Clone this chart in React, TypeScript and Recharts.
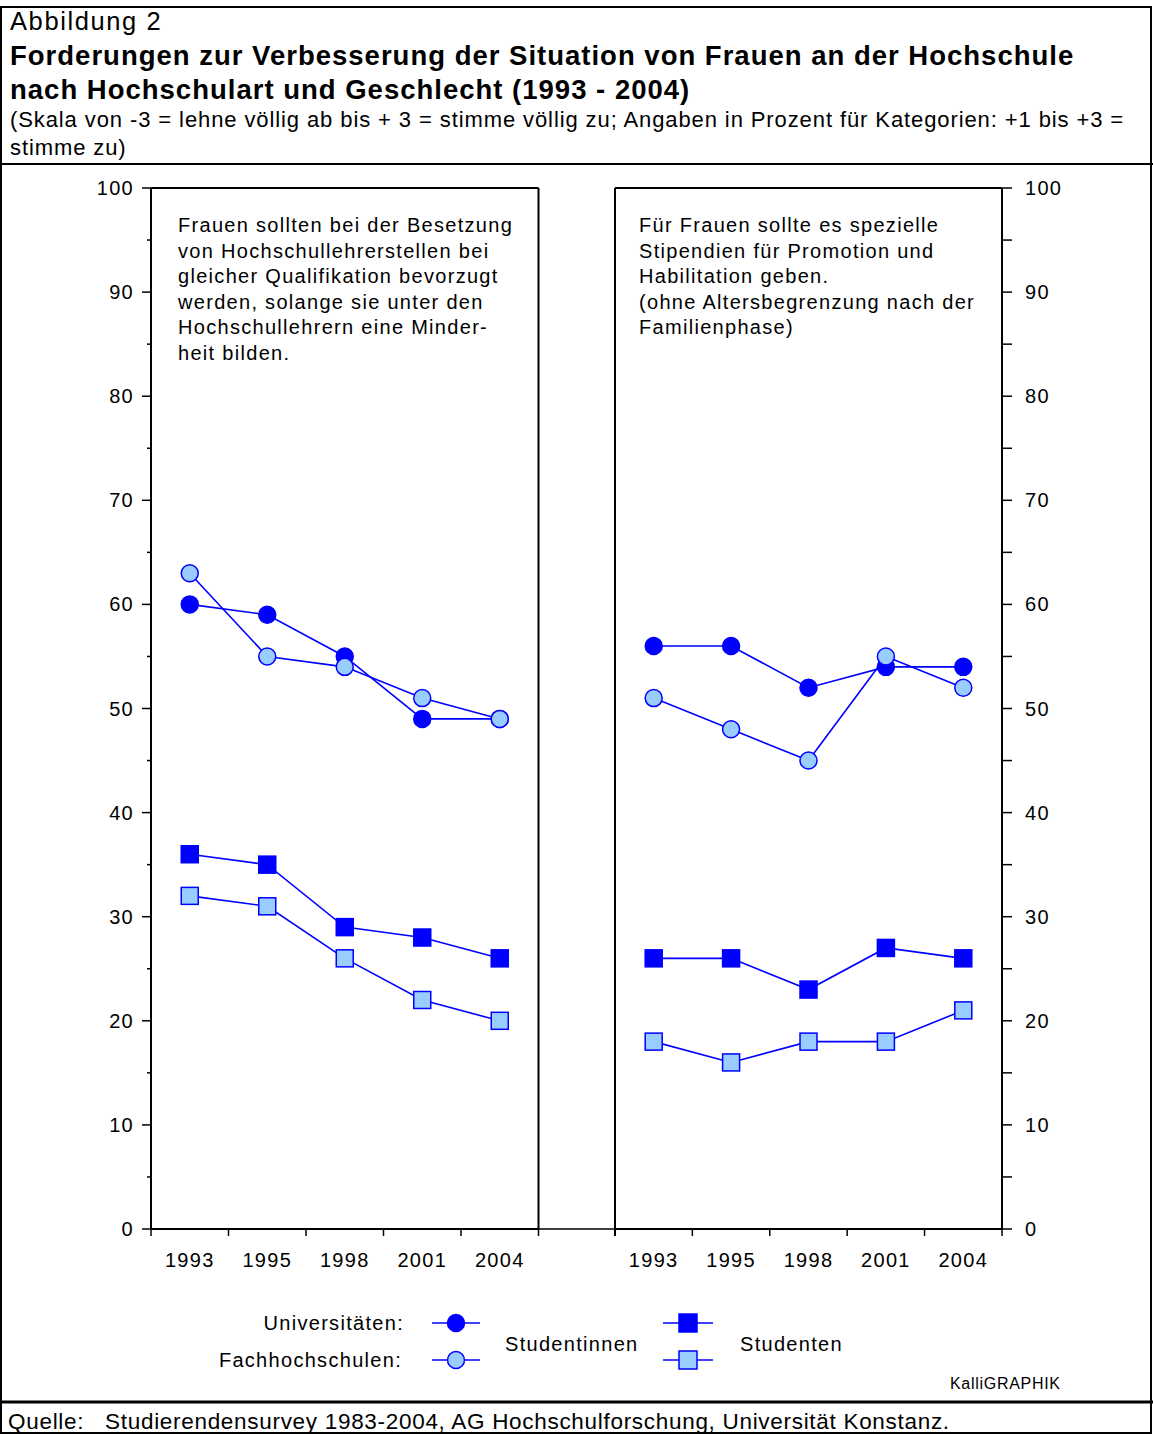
import React from 'react';
import { LineChart, Line, XAxis, YAxis, ReferenceLine } from 'recharts';

// Kategorien (Erhebungsjahre)
const years = ['1993', '1995', '1998', '2001', '2004'];

// linkes Feld: Bevorzugung bei Besetzung von Hochschullehrerstellen
const uniWomenLeft = [60, 59, 55, 49, 49];
const fhWomenLeft = [63, 55, 54, 51, 49];
const uniMenLeft = [36, 35, 29, 28, 26];
const fhMenLeft = [32, 31, 26, 22, 20];

// rechtes Feld: spezielle Stipendien
const uniWomenRight = [56, 56, 52, 54, 54];
const fhWomenRight = [51, 48, 45, 55, 52];
const uniMenRight = [26, 26, 23, 27, 26];
const fhMenRight = [18, 16, 18, 18, 21];

const yTicks = [0, 5, 10, 15, 20, 25, 30, 35, 40, 45, 50, 55, 60, 65, 70, 75, 80, 85, 90, 95, 100];

const leftNote = [
  'Frauen sollten bei der Besetzung',
  'von Hochschullehrerstellen bei',
  'gleicher Qualifikation bevorzugt',
  'werden, solange sie unter den',
  'Hochschullehrern eine Minder-',
  'heit bilden.',
];
const rightNote = [
  'Für Frauen sollte es spezielle',
  'Stipendien für Promotion und',
  'Habilitation geben.',
  '(ohne Altersbegrenzung nach der',
  'Familienphase)',
];

const FONT = '"Liberation Sans", Arial, Helvetica, sans-serif';
const BLUE = '#0000FF';
const LIGHT = '#99CCFF';

const buildRows = (uniW: number[], fhW: number[], uniM: number[], fhM: number[]) =>
  years.map((year, i) => ({ year, uniW: uniW[i], fhW: fhW[i], uniM: uniM[i], fhM: fhM[i] }));

const leftRows = buildRows(uniWomenLeft, fhWomenLeft, uniMenLeft, fhMenLeft);
const rightRows = buildRows(uniWomenRight, fhWomenRight, uniMenRight, fhMenRight);

const circleDot = (fill: string) => (props: any) => {
  const { cx, cy, index } = props;
  if (cx == null || cy == null) return <g key={`c-${fill}-${index}`} />;
  return <circle key={`c-${fill}-${index}`} cx={cx} cy={cy} r={8.5} fill={fill} stroke={BLUE} strokeWidth={1.5} />;
};

const squareDot = (fill: string) => (props: any) => {
  const { cx, cy, index } = props;
  if (cx == null || cy == null) return <g key={`s-${fill}-${index}`} />;
  return (
    <rect key={`s-${fill}-${index}`} x={cx - 8.5} y={cy - 8.5} width={17} height={17} fill={fill} stroke={BLUE} strokeWidth={1.5} />
  );
};

const textStyle = { fontFamily: FONT, fontSize: 20, letterSpacing: 1.3 };

function Panel({ rows, side, left, width }: { rows: any[]; side: 'left' | 'right'; left: number; width: number }) {
  const plotW = 387.5;
  const half = plotW / years.length / 2;
  const margin =
    side === 'left'
      ? { top: 188, left: 91, right: 21.5, bottom: 31 }
      : { top: 188, left: 55, right: 91, bottom: 31 };

  const xTick = (p: any) => {
    const { x, y, payload, index } = p;
    return (
      <g key={`xt-${index}`}>
        <line x1={x - half} x2={x - half} y1={y} y2={y + 7} stroke="#000" strokeWidth={1.5} />
        {index === years.length - 1 && <line x1={x + half} x2={x + half} y1={y} y2={y + 7} stroke="#000" strokeWidth={1.5} />}
        <text x={x} y={y + 38} textAnchor="middle" fill="#000" style={textStyle}>
          {payload.value}
        </text>
      </g>
    );
  };

  const yTick = (p: any) => {
    const { x, y, payload } = p;
    const major = payload.value % 10 === 0;
    if (side === 'left') {
      return (
        <g key={`yt-${payload.value}`}>
          <line x1={x - (major ? 9 : 4)} x2={x} y1={y} y2={y} stroke="#000" strokeWidth={1.5} />
          {major && (
            <text x={x - 17} y={y + 7} textAnchor="end" fill="#000" style={textStyle}>
              {payload.value}
            </text>
          )}
        </g>
      );
    }
    return (
      <g key={`yt-${payload.value}`}>
        <line x1={x} x2={x + 10} y1={y} y2={y} stroke="#000" strokeWidth={1.5} />
        {major && (
          <text x={x + 23} y={y + 7} textAnchor="start" fill="#000" style={textStyle}>
            {payload.value}
          </text>
        )}
      </g>
    );
  };

  return (
    <div style={{ position: 'absolute', left, top: 0 }}>
      <LineChart width={width} height={1300} data={rows} margin={margin}>
        <XAxis
          dataKey="year"
          scale="band"
          interval={0}
          height={40}
          tickSize={0}
          tickMargin={0}
          tickLine={false}
          axisLine={{ stroke: '#000', strokeWidth: 2 }}
          tick={xTick}
        />
        <YAxis
          orientation={side}
          type="number"
          domain={[0, 100]}
          ticks={yTicks}
          interval={0}
          width={60}
          tickSize={0}
          tickMargin={0}
          tickLine={false}
          axisLine={{ stroke: '#000', strokeWidth: 2 }}
          tick={yTick}
        />
        <ReferenceLine y={100} stroke="#000" strokeWidth={2} />
        <Line dataKey="uniM" stroke={BLUE} strokeWidth={1.6} dot={squareDot(BLUE)} isAnimationActive={false} />
        <Line dataKey="fhM" stroke={BLUE} strokeWidth={1.6} dot={squareDot(LIGHT)} isAnimationActive={false} />
        <Line dataKey="uniW" stroke={BLUE} strokeWidth={1.6} dot={circleDot(BLUE)} isAnimationActive={false} />
        <Line dataKey="fhW" stroke={BLUE} strokeWidth={1.6} dot={circleDot(LIGHT)} isAnimationActive={false} />
      </LineChart>
    </div>
  );
}

export default function App() {
  return (
    <div style={{ position: 'absolute', left: 0, top: 0, width: 1153, height: 1434, background: '#fff', fontFamily: FONT }}>
      <svg width={1153} height={1434} style={{ position: 'absolute', left: 0, top: 0 }}>
        {/* Rahmen */}
        <rect x={1} y={7} width={1150} height={1426} fill="none" stroke="#000" strokeWidth={2} />
        <line x1={0} x2={1153} y1={164} y2={164} stroke="#000" strokeWidth={2} />
        <line x1={0} x2={1153} y1={1402} y2={1402} stroke="#000" strokeWidth={3} />

        {/* Kopf */}
        <text x={10} y={30} fontSize={25.5} letterSpacing={1.6} fill="#000">Abbildung 2</text>
        <text x={10} y={65} fontSize={27.5} fontWeight="bold" letterSpacing={1} fill="#000">
          Forderungen zur Verbesserung der Situation von Frauen an der Hochschule
        </text>
        <text x={10} y={99} fontSize={27.5} fontWeight="bold" letterSpacing={1} fill="#000">
          nach Hochschulart und Geschlecht (1993 - 2004)
        </text>
        <text x={10} y={127} fontSize={22} letterSpacing={0.9} fill="#000">
          (Skala von -3 = lehne völlig ab bis + 3 = stimme völlig zu; Angaben in Prozent für Kategorien: +1 bis +3 =
        </text>
        <text x={10} y={155} fontSize={22} letterSpacing={0.9} fill="#000">stimme zu)</text>

        {/* Feldrahmen */}
        <line x1={538.5} x2={538.5} y1={188} y2={1229} stroke="#000" strokeWidth={2} />
        <line x1={615} x2={615} y1={188} y2={1236} stroke="#000" strokeWidth={2} />
        <line x1={538} x2={615} y1={1229} y2={1229} stroke="#000" strokeWidth={1.5} />

        {/* Fragetexte */}
        <text x={178} y={232} style={textStyle} fill="#000">
          {leftNote.map((t, i) => (
            <tspan key={i} x={178} dy={i === 0 ? 0 : 25.6}>{t}</tspan>
          ))}
        </text>
        <text x={639} y={232} style={textStyle} fill="#000">
          {rightNote.map((t, i) => (
            <tspan key={i} x={639} dy={i === 0 ? 0 : 25.6}>{t}</tspan>
          ))}
        </text>

        {/* Legende */}
        <text x={404} y={1330} textAnchor="end" style={textStyle} fill="#000">Universitäten:</text>
        <text x={402} y={1367} textAnchor="end" style={textStyle} fill="#000">Fachhochschulen:</text>
        <line x1={432} x2={480} y1={1323} y2={1323} stroke={BLUE} strokeWidth={1.6} />
        <circle cx={456} cy={1323} r={8.5} fill={BLUE} stroke={BLUE} strokeWidth={1.5} />
        <line x1={432} x2={480} y1={1360} y2={1360} stroke={BLUE} strokeWidth={1.6} />
        <circle cx={456} cy={1360} r={8.5} fill={LIGHT} stroke={BLUE} strokeWidth={1.5} />
        <text x={505} y={1351} style={textStyle} fill="#000">Studentinnen</text>
        <line x1={663} x2={713} y1={1323} y2={1323} stroke={BLUE} strokeWidth={1.6} />
        <rect x={679} y={1314} width={18} height={18} fill={BLUE} stroke={BLUE} strokeWidth={1.5} />
        <line x1={663} x2={713} y1={1360} y2={1360} stroke={BLUE} strokeWidth={1.6} />
        <rect x={679} y={1351} width={18} height={18} fill={LIGHT} stroke={BLUE} strokeWidth={1.5} />
        <text x={740} y={1351} style={textStyle} fill="#000">Studenten</text>
        <text x={950} y={1389} fontSize={16} letterSpacing={0.7} fill="#000">KalliGRAPHIK</text>

        {/* Quelle */}
        <text x={8} y={1429} fontSize={22.5} letterSpacing={0.7} fill="#000" style={{ whiteSpace: 'pre' }}>
          Quelle:   Studierendensurvey 1983-2004, AG Hochschulforschung, Universität Konstanz.
        </text>
      </svg>
      <Panel rows={leftRows} side="left" left={0} width={560} />
      <Panel rows={rightRows} side="right" left={560} width={593} />
    </div>
  );
}
